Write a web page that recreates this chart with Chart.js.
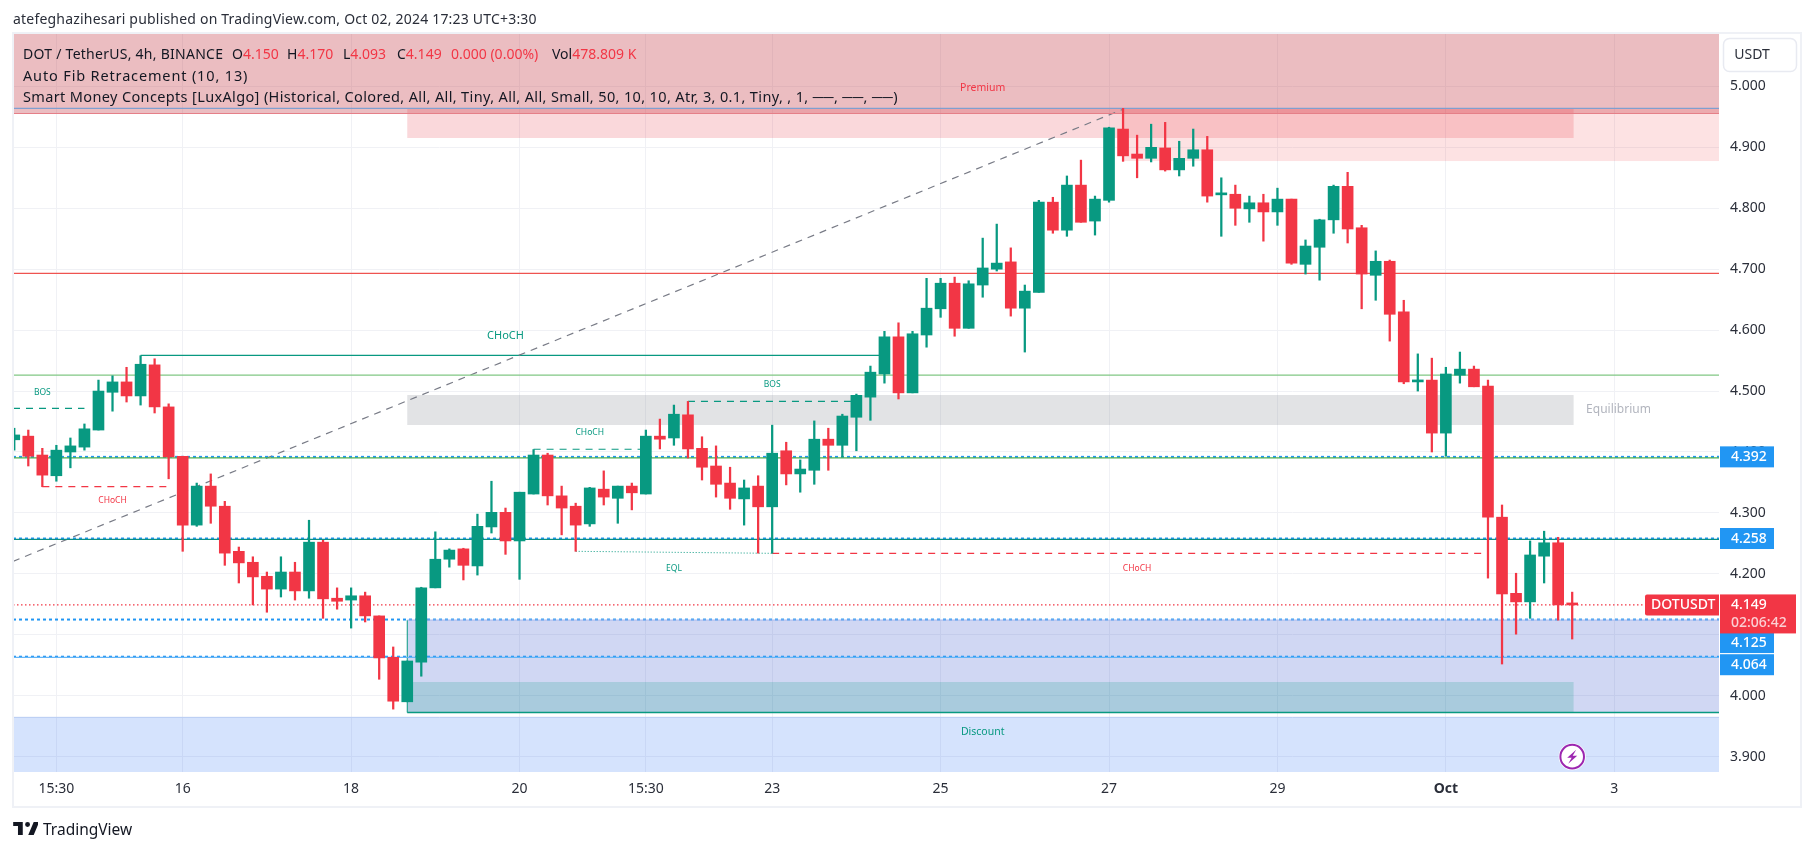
<!DOCTYPE html>
<html><head><meta charset="utf-8">
<script src="https://cdn.jsdelivr.net/npm/chart.js@4/dist/chart.umd.min.js"></script>
<style>
html,body{margin:0;padding:0;background:#fff;width:1814px;height:851px;overflow:hidden}
#c{position:absolute;left:0;top:0}
.t{position:absolute;font-family:"Noto Sans",sans-serif;font-size:14px;color:#131722;white-space:pre;line-height:20px}
.r{color:#f23645}
</style></head><body>
<canvas id="c" width="1814" height="851"></canvas>
<div class="t" style="left:13px;top:9px;color:#2a2e39;letter-spacing:.2px">atefeghazihesari published on TradingView.com, Oct 02, 2024 17:23 UTC+3:30</div>
<div class="t" style="left:23px;top:44px;letter-spacing:.26px">DOT / TetherUS, 4h, BINANCE</div>
<div class="t" style="left:232px;top:44px">O<span class="r">4.150</span></div>
<div class="t" style="left:287px;top:44px">H<span class="r">4.170</span></div>
<div class="t" style="left:343px;top:44px">L<span class="r">4.093</span></div>
<div class="t" style="left:397px;top:44px">C<span class="r">4.149</span></div>
<div class="t r" style="left:451px;top:44px">0.000 (0.00%)</div>
<div class="t" style="left:552px;top:44px">Vol<span class="r">478.809 K</span></div>
<div class="t" style="left:23px;top:65px;font-size:14.5px;letter-spacing:.85px">Auto Fib Retracement (10, 13)</div>
<div class="t" style="left:23px;top:86px;font-size:14.5px;letter-spacing:.36px">Smart Money Concepts [LuxAlgo] (Historical, Colored, All, All, Tiny, All, All, Small, 50, 10, 10, Atr, 3, 0.1, Tiny, , 1, ──, ──, ──)</div>
<svg style="position:absolute;left:13px;top:822px" width="25" height="13" viewBox="0 0 36 19"><path fill="#131722" d="M14 0H0v6h7v13h7V0zM30 19h-8L30 0h8l-8 19zM21 0a3.6 3.6 0 1 1 0 7.2A3.6 3.6 0 0 1 21 0z"/></svg>
<div class="t" style="left:43px;top:819px;font-size:15.5px;color:#131722">TradingView</div>
<script>
// ---- candles, one entry per 4h bar, left to right ----
const opens=[4.420,4.426,4.395,4.361,4.400,4.408,4.436,4.498,4.515,4.492,4.543,4.474,4.393,4.280,4.344,4.311,4.237,4.219,4.196,4.175,4.203,4.172,4.252,4.160,4.157,4.164,4.131,4.063,3.990,4.055,4.177,4.224,4.241,4.213,4.277,4.301,4.254,4.331,4.395,4.328,4.311,4.282,4.339,4.324,4.344,4.331,4.426,4.423,4.461,4.406,4.377,4.349,4.323,4.344,4.310,4.402,4.364,4.370,4.421,4.411,4.457,4.490,4.528,4.589,4.497,4.592,4.635,4.677,4.603,4.674,4.700,4.712,4.636,4.662,4.810,4.764,4.838,4.779,4.813,4.930,4.889,4.882,4.899,4.863,4.882,4.896,4.822,4.823,4.799,4.809,4.794,4.815,4.708,4.736,4.781,4.836,4.768,4.690,4.713,4.630,4.515,4.518,4.431,4.526,4.536,4.508,4.293,4.168,4.154,4.229,4.251,4.150];
const highs=[4.439,4.436,4.406,4.411,4.423,4.446,4.518,4.525,4.539,4.558,4.553,4.479,4.393,4.349,4.364,4.319,4.244,4.228,4.203,4.228,4.219,4.288,4.255,4.177,4.177,4.170,4.131,4.080,4.057,4.178,4.269,4.241,4.242,4.298,4.352,4.308,4.334,4.404,4.398,4.344,4.316,4.342,4.369,4.344,4.349,4.436,4.454,4.477,4.483,4.425,4.410,4.375,4.354,4.361,4.444,4.416,4.387,4.451,4.439,4.462,4.495,4.541,4.598,4.612,4.598,4.685,4.685,4.687,4.681,4.751,4.774,4.735,4.674,4.813,4.818,4.853,4.879,4.820,4.933,4.964,4.920,4.938,4.941,4.910,4.930,4.918,4.850,4.838,4.820,4.823,4.833,4.815,4.748,4.782,4.838,4.859,4.772,4.730,4.715,4.649,4.561,4.554,4.539,4.564,4.541,4.518,4.313,4.201,4.254,4.270,4.260,4.170];
const lows=[4.403,4.377,4.343,4.352,4.374,4.403,4.436,4.467,4.482,4.477,4.464,4.356,4.237,4.278,4.283,4.214,4.185,4.149,4.137,4.162,4.157,4.160,4.127,4.142,4.111,4.121,4.027,3.978,3.990,4.032,4.177,4.211,4.190,4.198,4.267,4.232,4.191,4.331,4.313,4.264,4.237,4.278,4.313,4.283,4.305,4.331,4.405,4.411,4.390,4.354,4.326,4.306,4.280,4.234,4.234,4.346,4.334,4.347,4.370,4.392,4.402,4.452,4.513,4.487,4.497,4.572,4.621,4.590,4.603,4.654,4.697,4.623,4.564,4.662,4.759,4.754,4.777,4.756,4.810,4.877,4.850,4.876,4.861,4.853,4.869,4.810,4.754,4.772,4.777,4.746,4.772,4.708,4.692,4.682,4.759,4.743,4.635,4.649,4.582,4.512,4.500,4.400,4.393,4.513,4.507,4.193,4.052,4.101,4.127,4.185,4.124,4.093];
const closes=[4.428,4.393,4.362,4.403,4.410,4.438,4.500,4.515,4.492,4.544,4.474,4.392,4.280,4.344,4.311,4.234,4.218,4.195,4.175,4.203,4.172,4.252,4.159,4.155,4.164,4.131,4.062,3.991,4.057,4.177,4.224,4.239,4.214,4.278,4.301,4.254,4.334,4.395,4.328,4.308,4.280,4.341,4.326,4.344,4.333,4.426,4.421,4.462,4.405,4.375,4.347,4.324,4.341,4.310,4.398,4.364,4.372,4.421,4.411,4.459,4.493,4.531,4.589,4.497,4.594,4.636,4.677,4.603,4.676,4.702,4.710,4.636,4.664,4.810,4.764,4.838,4.777,4.815,4.932,4.886,4.882,4.900,4.863,4.882,4.896,4.820,4.823,4.800,4.809,4.794,4.815,4.710,4.738,4.781,4.836,4.766,4.692,4.713,4.626,4.515,4.518,4.431,4.528,4.536,4.507,4.293,4.167,4.154,4.231,4.251,4.149,4.149];

// ---- axes ----
const xTickBars=[3,12,24,36,45,54,66,78,90,102,114];
const xTickLabels=['15:30','16','18','20','15:30','23','25','27','29','Oct','3'];
const yTickValues=[3.9,4.0,4.1,4.2,4.3,4.4,4.5,4.6,4.7,4.8,4.9,5.0];
const xRange=[-0.09,121.46];
const yRange=[3.8748,5.086];

// ---- levels ----
const fibX=[-0.09,79], fibY=[4.2205,4.9625];
const premiumLowerBlue=4.964, premiumLowerRed=4.9555;
const fibRed=4.693, fibLightGreen=4.526;
const level4392=4.392, level4258=4.258, level4125=4.125, level4064=4.064, lastPrice=4.149;
const fibGreenSolid=4.3905, fibTealSolid=4.2567, fibBlueSolid=4.063;
const chochMain=[9,62,4.5585], bosLeft=[-0.09,5,4.4716], chochRedLeft=[2,11,4.343];
const chochMid=[37,45,4.4045], bosMid=[48,60,4.483], chochRedRight=[54,105,4.2337];
const eqlX=[40,54], eqlY=[4.237,4.2337];
const discountFloor=3.9724, blueBandTop=4.1242;

// ---- shaded zones: x from, x to, top value, bottom value ----
const premiumZone=[-0.09,121.46,5.086,4.9555];
const bandA=[28,111.1,4.964,4.9153];
const bandB=[79,121.46,4.964,4.8775];
const equilibriumZone=[28,111.1,4.4935,4.4443];
const blueZone=[28,121.46,4.1242,3.9724];
const tealZone=[28,111.1,4.0225,3.9724];
const discountZone=[-0.09,121.46,3.9645,3.8748];

const RED='#f23645', GREEN='#089981';
const bars=opens.map((_,i)=>i);
const candleColors=opens.map((o,i)=>closes[i]>=o?GREEN:RED);
const flat=(v,a=xRange[0],b=xRange[1])=>[{x:a,y:v},{x:b,y:v}];
const line=(data,color,width,dash)=>({type:'line',data,borderColor:color,borderWidth:width,borderDash:dash||[],pointRadius:0,tension:0,order:5,parsing:true,fill:false,clip:true});

const zonesPlugin={id:'zones',beforeDatasetsDraw(ch){
  const {ctx,scales:{x,y}}=ch;
  const z=(r,c)=>{ctx.fillStyle=c;const a=x.getPixelForValue(r[0]),b=x.getPixelForValue(r[1]),t=y.getPixelForValue(r[2]),u=y.getPixelForValue(r[3]);ctx.fillRect(a,t,b-a,u-t);};
  ctx.save();
  z(premiumZone,'rgba(198,66,78,.35)');
  z(discountZone,'rgba(45,115,245,.2)');
  z(bandA,'rgba(230,60,75,.2)');
  z(bandB,'rgba(242,62,68,.15)');
  z(equilibriumZone,'rgba(120,123,134,.21)');
  z(blueZone,'rgba(63,90,205,.245)');
  z(tealZone,'rgba(8,153,129,.2)');
  ctx.restore();
}};
const overlayPlugin={id:'overlay',afterDraw(ch){
  const {ctx,scales:{x,y}}=ch;
  ctx.save();
  // frame
  ctx.strokeStyle='#eff1f6';ctx.lineWidth=2;ctx.strokeRect(13,33,1788,774);
  // chart labels
  const label=(txt,i,v,color,size)=>{ctx.font=size+'px "Noto Sans",sans-serif';ctx.fillStyle=color;ctx.textAlign='center';ctx.textBaseline='middle';ctx.fillText(txt,x.getPixelForValue(i),y.getPixelForValue(v));};
  label('CHoCH',35,4.590,GREEN,11);
  label('BOS',2,4.497,GREEN,8.5);
  label('CHoCH',7,4.321,RED,8.5);
  label('CHoCH',41,4.432,GREEN,8.5);
  label('BOS',54,4.510,GREEN,8.5);
  label('EQL',47,4.209,GREEN,8.5);
  label('CHoCH',80,4.209,RED,8.5);
  label('Premium',69,4.997,RED,10.5);
  label('Discount',69,3.940,GREEN,10.5);
  label('Equilibrium',114.3,4.469,'#b2b5be',12);
  // bolt marker
  const mx=x.getPixelForValue(111),my=y.getPixelForValue(3.9);
  ctx.beginPath();ctx.arc(mx,my,13.5,0,Math.PI*2);ctx.fillStyle='#fff';ctx.fill();
  ctx.beginPath();ctx.arc(mx,my,11.8,0,Math.PI*2);ctx.strokeStyle='#9c27b0';ctx.lineWidth=2;ctx.stroke();
  ctx.beginPath();ctx.moveTo(mx+4,my-7);ctx.lineTo(mx-5,my+1);ctx.lineTo(mx-.5,my+1);ctx.lineTo(mx-4,my+7);ctx.lineTo(mx+5,my-1);ctx.lineTo(mx+.5,my-1);ctx.closePath();ctx.fillStyle='#9c27b0';ctx.fill();
  // USDT button
  ctx.beginPath();ctx.roundRect(1723.5,38.5,73,33,6);ctx.strokeStyle='#e8eaf1';ctx.lineWidth=1.5;ctx.stroke();
  ctx.font='14px "Noto Sans",sans-serif';ctx.fillStyle='#2a2e39';ctx.textAlign='center';ctx.textBaseline='middle';ctx.fillText('USDT',1752,55);
  // price tags
  const tag=(v,offset)=>{const p=y.getPixelForValue(v)+offset;ctx.fillStyle='#2196f3';ctx.fillRect(1720,p-10.5,54,21);ctx.fillStyle='#fff';ctx.textAlign='left';ctx.font='500 14px "Noto Sans",sans-serif';ctx.fillText(v.toFixed(3),1731,p+.5);};
  tag(level4392,0);tag(level4258,0);tag(level4125,23);tag(level4064,8);
  const lp=y.getPixelForValue(lastPrice);
  ctx.fillStyle=RED;ctx.fillRect(1720,lp-10.5,76,39);
  ctx.beginPath();ctx.roundRect(1645,lp-10.5,74,21,[2,0,0,2]);ctx.fill();
  ctx.fillStyle='#fff';ctx.textAlign='left';ctx.font='500 14px "Noto Sans",sans-serif';
  ctx.fillText(lastPrice.toFixed(3),1731,lp+.5);
  ctx.fillText('DOTUSDT',1651,lp+.5);
  ctx.fillStyle='#fbd0d4';ctx.fillText('02:06:42',1731,lp+18.5);
  ctx.restore();
}};

new Chart(document.getElementById('c'),{
  data:{datasets:[
    {type:'bar',data:bars.map(i=>({x:i,y:[opens[i],closes[i]]})),backgroundColor:candleColors,barThickness:11,minBarLength:2,grouped:false,order:1,borderWidth:0},
    {type:'bar',data:bars.map(i=>({x:i,y:[lows[i],highs[i]]})),backgroundColor:candleColors,barThickness:1.6,grouped:false,order:2,borderWidth:0},
    line(flat(premiumLowerBlue),'#7f9fd0',1.2),
    line(flat(premiumLowerRed),'#e57f88',1.2),
    line(flat(fibRed),'#ef5350',1.2),
    line(flat(fibLightGreen),'#81c784',1.2),
    line(flat(fibGreenSolid),'#4caf50',1.2),
    line(flat(fibTealSolid),'#0b8f85',1.2),
    line(flat(fibBlueSolid),'#64b5f6',1.2),
    line(flat(blueBandTop,28),'#a8b8ec',1),
    line(flat(3.9645),'#b7ccf2',1),
    line([{x:28,y:discountFloor},{x:28,y:blueBandTop}],GREEN,1),
    line(flat(discountFloor,28),GREEN,1.6),
    line(flat(level4392),'#2196f3',2,[3,3]),
    line(flat(level4258),'#2196f3',2,[3,3]),
    line(flat(level4125),'#2196f3',2,[3,3]),
    line(flat(level4064),'#2196f3',2,[3,3]),
    line(flat(lastPrice),RED,1.3,[1.5,2.5]),
    line(fibX.map((v,i)=>({x:v,y:fibY[i]})),'#787b86',1.2,[7,6]),
    line(flat(chochMain[2],chochMain[0],chochMain[1]),GREEN,1.2),
    line(flat(bosLeft[2],bosLeft[0],bosLeft[1]),GREEN,1.2,[7,6]),
    line(flat(chochRedLeft[2],chochRedLeft[0],chochRedLeft[1]),RED,1.2,[7,6]),
    line(flat(chochMid[2],chochMid[0],chochMid[1]),GREEN,1.2,[7,6]),
    line(flat(bosMid[2],bosMid[0],bosMid[1]),GREEN,1.2,[7,6]),
    line(flat(chochRedRight[2],chochRedRight[0],chochRedRight[1]),RED,1.2,[7,6]),
    line(eqlX.map((v,i)=>({x:v,y:eqlY[i]})),GREEN,1,[1,2]),
  ]},
  options:{
    responsive:false,animation:false,events:[],
    layout:{padding:{left:13,top:34,right:13,bottom:45}},
    plugins:{legend:{display:false},tooltip:{enabled:false},title:{display:false}},
    scales:{
      x:{type:'linear',offset:false,min:xRange[0],max:xRange[1],
        afterBuildTicks(s){s.ticks=xTickBars.map(v=>({value:v}));},
        afterFit(s){s.height=34;s.paddingLeft=0;s.paddingRight=0;},
        grid:{offset:false,color:'#f0f1f5',drawTicks:false,lineWidth:1},border:{display:false},
        ticks:{autoSkip:false,maxRotation:0,padding:9,color:'#2a2e39',
          font:c=>({family:'"Noto Sans",sans-serif',size:14,weight:c.tick&&c.tick.label==='Oct'?'bold':'normal'}),
          callback:(v)=>xTickLabels[xTickBars.indexOf(v)]}},
      y:{type:'linear',position:'right',min:yRange[0],max:yRange[1],
        afterBuildTicks(s){s.ticks=yTickValues.map(v=>({value:v}));},
        afterFit(s){s.width=82;},
        grid:{color:'#f0f1f5',drawTicks:false,lineWidth:1},border:{display:false},
        ticks:{padding:11,color:'#2a2e39',crossAlign:'near',font:{family:'"Noto Sans",sans-serif',size:14},callback:v=>v.toFixed(3)}}
    }
  },
  plugins:[zonesPlugin,overlayPlugin]
});
</script>
</body></html>
